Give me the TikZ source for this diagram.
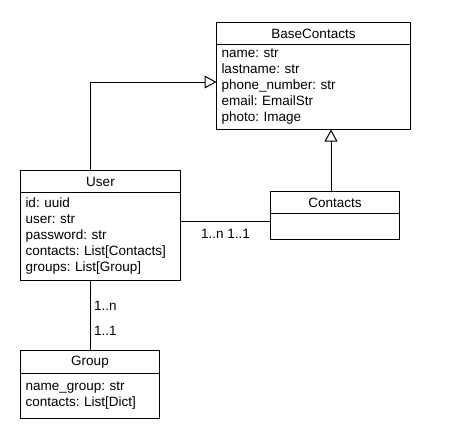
\documentclass[tikz,border=0pt]{standalone}
\usepackage{fontspec}
\setmainfont{Liberation Sans}
\usetikzlibrary{arrows.meta}
\frenchspacing

\tikzset{
  classname/.style={draw, rectangle, anchor=north west, inner sep=0pt, outer sep=0pt},
  classbody/.style 2 args={draw, rectangle, anchor=north west, align=left, outer sep=0pt,
    inner xsep=5pt, inner ysep=0pt, text width=#1, minimum height=#2},
  inherit/.style={-{Triangle[open, length=12pt, width=13pt]}},
  mult/.style={inner sep=1pt},
}

\begin{document}
\begin{tikzpicture}[x=1pt, y=-1pt, line width=1pt, every node/.style={font=\fontsize{13.5}{16}\selectfont}]
  \useasboundingbox (-0.5,-0.5) rectangle (449.5,439.5);
  % classes
  \node[classname, minimum width=194pt, minimum height=22pt] (basehead) at (216,22) {BaseContacts};
  \node[classbody={184pt}{85pt}] (basebody) at (basehead.south west) {name: str\\lastname: str\\phone\_number: str\\email: EmailStr\\photo: Image};
  \node[classname, minimum width=160pt, minimum height=22pt] (userhead) at (20,170) {User};
  \node[classbody={150pt}{88pt}] (userbody) at (userhead.south west) {id: uuid\\user: str\\password: str\\contacts: List[Contacts]\\groups: List[Group]};
  \node[classname, minimum width=129pt, minimum height=22pt] (contactshead) at (270,191) {Contacts};
  \node[classbody={119pt}{26pt}] (contactsbody) at (contactshead.south west) {};
  \node[classname, minimum width=139pt, minimum height=23pt] (grouphead) at (20,350) {Group};
  \node[classbody={129pt}{45pt}] (groupbody) at (grouphead.south west) {name\_group: str\\contacts: List[Dict]};
  % links
  \draw[inherit] (userhead.north -| grouphead.north) |- ([yshift=5pt]basebody.west);
  \draw[inherit] ([xshift=-4pt]contactshead.north) -- ([xshift=-4pt]contactshead.north |- basebody.south);
  \coordinate (cjoin) at ([yshift=5pt]contactsbody.west);
  \draw (cjoin -| userbody.east) -- (cjoin);
  \draw (grouphead.north) -- (grouphead.north |- userbody.south);
  % multiplicities
  \node[mult] (m1) at (225,233) {1..n 1..1};
  \node[mult, anchor=west] (m2) at (92,305) {1..n};
  \node[mult, anchor=west] (m3) at (92,330) {1..1};
\end{tikzpicture}
\end{document}
